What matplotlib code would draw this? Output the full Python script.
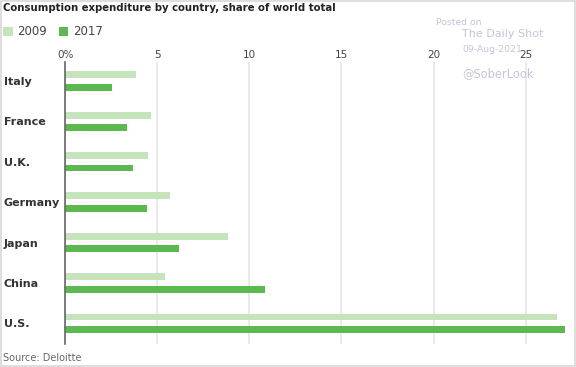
import numpy as np
import matplotlib.pyplot as plt
from matplotlib.patches import Rectangle

# 数据
countries = ['Italy', 'France', 'U.K.', 'Germany', 'Japan', 'China', 'U.S.']
share_2009 = [3.85, 4.65, 4.5, 5.7, 8.85, 5.45, 26.7]
share_2017 = [2.55, 3.35, 3.7, 4.45, 6.2, 10.85, 27.15]
tick_vals = [0, 5, 10, 15, 20, 25]
tick_labels = ['0%', '5', '10', '15', '20', '25']

c_light = '#c6e4bb'
c_dark = '#5cb94f'

fig = plt.figure(figsize=(5.76, 3.67), dpi=100)
ax = fig.add_axes([0.113, 0.063, 0.87, 0.768])

y = np.arange(len(countries))
ax.barh(y - 0.156, share_2009, height=0.17, color=c_light, label='2009')
ax.barh(y + 0.156, share_2017, height=0.17, color=c_dark, label='2017')

ax.set_xlim(0, 27.2)
ax.set_ylim(6.51, -0.47)
ax.set_xticks(tick_vals)
ax.set_xticklabels(tick_labels)
ax.xaxis.tick_top()
ax.tick_params(axis='x', length=0, labelsize=7.5, labelcolor='#444444', pad=1.5)
ax.set_yticks(y)
ax.set_yticklabels(countries, fontweight='bold', fontsize=8, color='#333333')
ax.tick_params(axis='y', length=0, pad=0)
for lbl in ax.get_yticklabels():
    lbl.set_horizontalalignment('left')
    lbl.set_x(-0.122)
ax.grid(axis='x', color='#e6e6e6', linewidth=1.2)
ax.set_axisbelow(True)
for s in ['top', 'right', 'bottom']:
    ax.spines[s].set_visible(False)
ax.spines['left'].set_color('#666666')
ax.spines['left'].set_linewidth(1.2)
ax.spines['left'].set_zorder(3)

# 标题和图例
fig.text(0.005, 0.992, 'Consumption expenditure by country, share of world total',
         fontsize=7.3, fontweight='bold', color='#222222', va='top')
fig.legend(loc='upper left', bbox_to_anchor=(-0.013, 0.96), ncol=2, frameon=False,
           fontsize=8.5, handlelength=0.8, handleheight=0.8, handletextpad=0.4,
           columnspacing=1.0, labelcolor='#444444')
fig.text(0.005, 0.025, 'Source: Deloitte', fontsize=7, color='#666666', va='center')

# 水印
wm = '#c4c4dc'
fig.text(0.757, 0.94, 'Posted on', fontsize=6.7, color=wm, va='center')
fig.text(0.802, 0.907, 'The Daily Shot', fontsize=8, color=wm, va='center')
fig.text(0.802, 0.866, '09-Aug-2021', fontsize=6.7, color=wm, va='center')
fig.text(0.802, 0.801, '@SoberLook', fontsize=8.3, color=wm, va='center')

fig.patches.append(Rectangle((0.001, 0.002), 0.997, 0.996, transform=fig.transFigure,
                             fill=False, edgecolor='#d8d8d8', linewidth=1.2))

fig.savefig('out.png', dpi=100)
